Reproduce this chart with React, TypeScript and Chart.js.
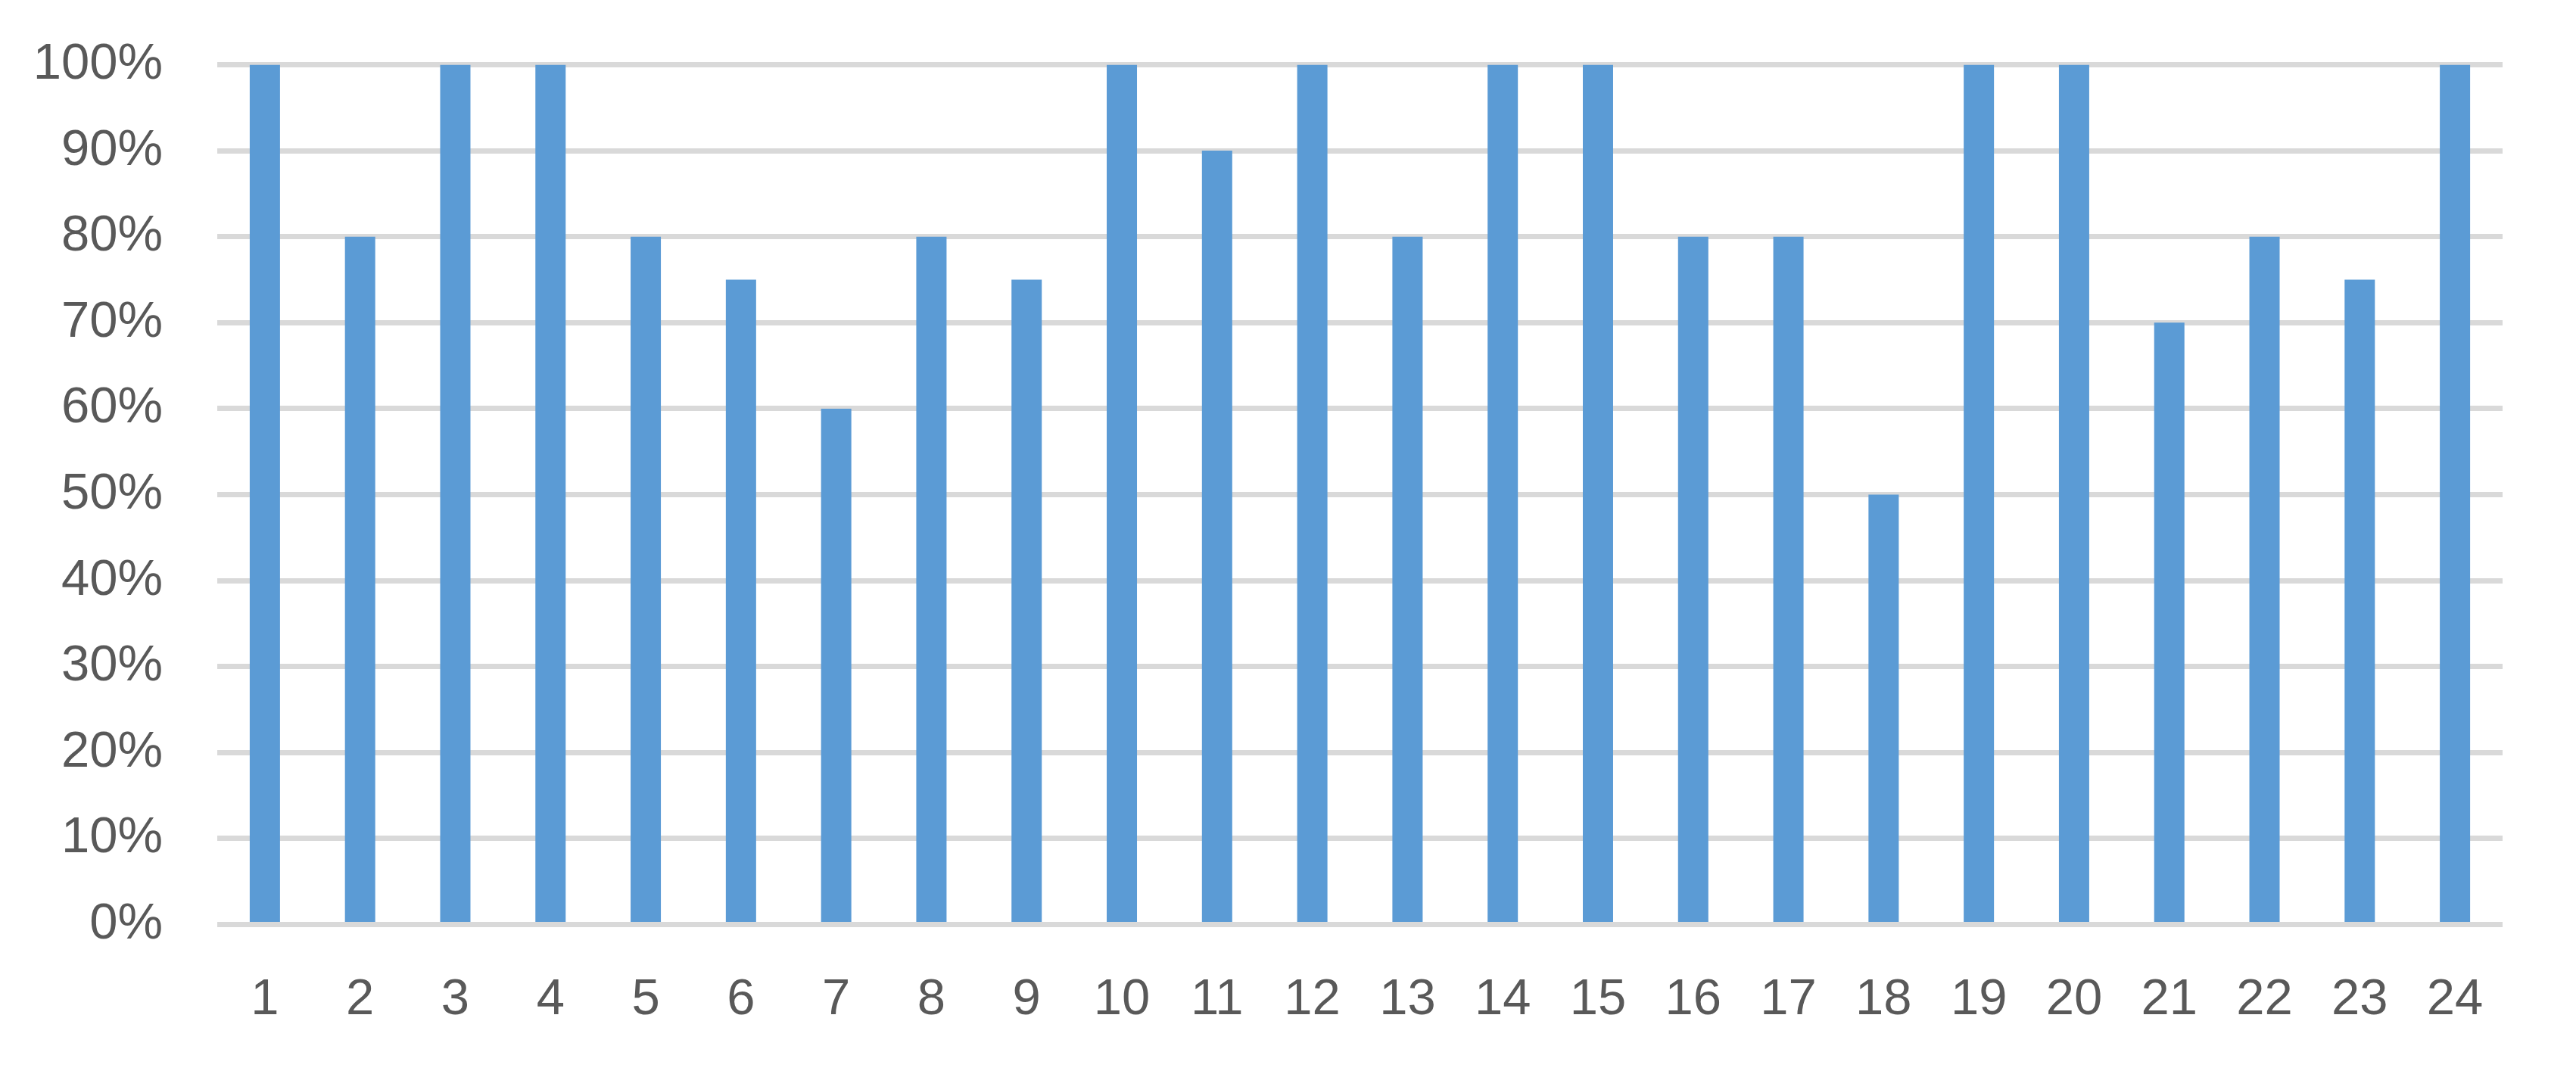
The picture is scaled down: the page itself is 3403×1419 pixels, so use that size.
import React, { useEffect, useRef } from "react";
import { Chart, registerables } from "chart.js";

Chart.register(...registerables);

const categories: string[] = Array.from({ length: 24 }, (_, i) => String(i + 1));
const values: number[] = [100, 80, 100, 100, 80, 75, 60, 80, 75, 100, 90, 100, 80, 100, 100, 80, 80, 50, 100, 100, 70, 80, 75, 100];
const yTicks: number[] = [0, 10, 20, 30, 40, 50, 60, 70, 80, 90, 100];

const W = 3403;
const H = 1419;

export default function App() {
  const ref = useRef<HTMLCanvasElement | null>(null);
  useEffect(() => {
    if (!ref.current) return;
    const font = { family: "'Liberation Sans', Arial, sans-serif", size: 67 };
    const chart = new Chart(ref.current, {
      type: "bar",
      data: {
        labels: categories,
        datasets: [
          {
            data: values,
            backgroundColor: "#5b9bd5",
            borderWidth: 0,
            categoryPercentage: 1,
            barPercentage: 0.318,
          },
        ],
      },
      options: {
        animation: false,
        responsive: false,
        devicePixelRatio: 1,
        layout: { padding: { left: 0, right: 97, top: 85.5, bottom: 0 } },
        plugins: { legend: { display: false }, tooltip: { enabled: false } },
        scales: {
          x: {
            grid: { display: false, drawTicks: false },
            border: { display: false },
            ticks: { color: "#595959", font, padding: 60, maxRotation: 0, autoSkip: false },
            afterFit: (s: any) => {
              s.height = H - 1221.5;
              s.paddingLeft = 0;
              s.paddingRight = 0;
            },
          },
          y: {
            min: 0,
            max: 100,
            afterBuildTicks: (s: any) => {
              s.ticks = yTicks.map((v) => ({ value: v }));
            },
            grid: { color: "#d9d9d9", lineWidth: 7, drawTicks: false },
            border: { display: false },
            ticks: {
              color: "#595959",
              font,
              padding: 72,
              callback: (v: any) => v + "%",
            },
            afterFit: (s: any) => {
              s.width = 287;
              s.paddingTop = 0;
              s.paddingBottom = 0;
            },
          },
        },
      },
    });
    return () => chart.destroy();
  }, []);
  return (
    <div style={{ position: "fixed", left: 0, top: 0, width: W, height: H, background: "#fff" }}>
      <canvas ref={ref} width={W} height={H} style={{ display: "block" }} />
    </div>
  );
}
